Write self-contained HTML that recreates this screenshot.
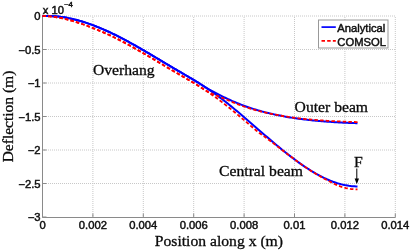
<!DOCTYPE html>
<html><head><meta charset="utf-8"><style>
html,body{margin:0;padding:0;background:#fff;}
body{width:410px;height:250px;overflow:hidden;}
svg{display:block;filter:blur(0.3px);}
.g{stroke:#c8c8c8;stroke-width:1;stroke-dasharray:1 1;fill:none;}
.ax{stroke:#8a8a8a;stroke-width:1;fill:none;}
.t{font-family:"Liberation Sans",sans-serif;font-size:10.4px;fill:#111;stroke:#111;stroke-width:0.45px;}
.s{font-family:"Liberation Serif",serif;font-size:14.5px;fill:#0a0a0a;stroke:#0a0a0a;stroke-width:0.3px;}
.b{stroke:#0000ff;stroke-width:2;fill:none;}
.r{stroke:#ff0000;stroke-width:1.8;fill:none;stroke-dasharray:3.5 2.165;}
</style></head><body>
<svg width="410" height="250" viewBox="0 0 410 250">
<line x1="92.9" y1="17" x2="92.9" y2="217.5" class="g"/>
<line x1="143.3" y1="17" x2="143.3" y2="217.5" class="g"/>
<line x1="193.7" y1="17" x2="193.7" y2="217.5" class="g"/>
<line x1="244.1" y1="17" x2="244.1" y2="217.5" class="g"/>
<line x1="294.5" y1="17" x2="294.5" y2="217.5" class="g"/>
<line x1="344.9" y1="17" x2="344.9" y2="217.5" class="g"/>
<line x1="395.3" y1="17" x2="395.3" y2="217.5" class="g"/>
<line x1="44" y1="16" x2="395.3" y2="16" class="g"/>
<line x1="44" y1="49.5" x2="395.3" y2="49.5" class="g"/>
<line x1="44" y1="83" x2="395.3" y2="83" class="g"/>
<line x1="44" y1="116.5" x2="395.3" y2="116.5" class="g"/>
<line x1="44" y1="150" x2="395.3" y2="150" class="g"/>
<line x1="44" y1="183.5" x2="395.3" y2="183.5" class="g"/>
<line x1="42.5" y1="16" x2="42.5" y2="217.5" class="ax"/>
<line x1="42.5" y1="217.5" x2="395.3" y2="217.5" class="ax"/>
<line x1="42.5" y1="217.5" x2="42.5" y2="213.5" class="ax"/>
<line x1="92.9" y1="217.5" x2="92.9" y2="213.5" class="ax"/>
<line x1="143.3" y1="217.5" x2="143.3" y2="213.5" class="ax"/>
<line x1="193.7" y1="217.5" x2="193.7" y2="213.5" class="ax"/>
<line x1="244.1" y1="217.5" x2="244.1" y2="213.5" class="ax"/>
<line x1="294.5" y1="217.5" x2="294.5" y2="213.5" class="ax"/>
<line x1="344.9" y1="217.5" x2="344.9" y2="213.5" class="ax"/>
<line x1="395.3" y1="217.5" x2="395.3" y2="213.5" class="ax"/>
<line x1="42.5" y1="16" x2="46.5" y2="16" class="ax"/>
<line x1="42.5" y1="49.5" x2="46.5" y2="49.5" class="ax"/>
<line x1="42.5" y1="83" x2="46.5" y2="83" class="ax"/>
<line x1="42.5" y1="116.5" x2="46.5" y2="116.5" class="ax"/>
<line x1="42.5" y1="150" x2="46.5" y2="150" class="ax"/>
<line x1="42.5" y1="183.5" x2="46.5" y2="183.5" class="ax"/>
<line x1="42.5" y1="217" x2="46.5" y2="217" class="ax"/>
<text transform="translate(42.5,228.9) scale(1.08,1)" class="t" text-anchor="middle">0</text>
<text transform="translate(92.9,228.9) scale(1.08,1)" class="t" text-anchor="middle">0.002</text>
<text transform="translate(143.3,228.9) scale(1.08,1)" class="t" text-anchor="middle">0.004</text>
<text transform="translate(193.7,228.9) scale(1.08,1)" class="t" text-anchor="middle">0.006</text>
<text transform="translate(244.1,228.9) scale(1.08,1)" class="t" text-anchor="middle">0.008</text>
<text transform="translate(294.5,228.9) scale(1.08,1)" class="t" text-anchor="middle">0.01</text>
<text transform="translate(344.9,228.9) scale(1.08,1)" class="t" text-anchor="middle">0.012</text>
<text transform="translate(395.3,228.9) scale(1.08,1)" class="t" text-anchor="middle">0.014</text>
<text transform="translate(40.5,20.1) scale(1.08,1)" class="t" text-anchor="end">0</text>
<text transform="translate(40.5,53.6) scale(1.08,1)" class="t" text-anchor="end">−0.5</text>
<text transform="translate(40.5,87.1) scale(1.08,1)" class="t" text-anchor="end">−1</text>
<text transform="translate(40.5,120.6) scale(1.08,1)" class="t" text-anchor="end">−1.5</text>
<text transform="translate(40.5,154.1) scale(1.08,1)" class="t" text-anchor="end">−2</text>
<text transform="translate(40.5,187.6) scale(1.08,1)" class="t" text-anchor="end">−2.5</text>
<text transform="translate(40.5,221.1) scale(1.08,1)" class="t" text-anchor="end">−3</text>
<text transform="translate(42.7,13.7) scale(1.08,1)" class="t" text-anchor="start">x 10</text>
<text transform="translate(63.9,6.9) scale(1.08,1)" class="t" text-anchor="start" style="font-size:7.2px">−4</text>
<path d="M42.5,16.1 L43.94,16.04 L45.38,16 L46.82,15.99 L48.25,15.99 L49.69,16.02 L51.13,16.06 L52.57,16.13 L54.01,16.21 L55.45,16.32 L56.88,16.44 L58.32,16.58 L59.76,16.75 L61.2,16.93 L62.64,17.13 L64.08,17.34 L65.51,17.58 L66.95,17.83 L68.39,18.11 L69.83,18.39 L71.27,18.7 L72.71,19.02 L74.14,19.36 L75.58,19.71 L77.02,20.08 L78.46,20.47 L79.9,20.87 L81.34,21.29 L82.77,21.72 L84.21,22.17 L85.65,22.63 L87.09,23.1 L88.53,23.59 L89.97,24.09 L91.4,24.61 L92.84,25.14 L94.28,25.68 L95.72,26.24 L97.16,26.81 L98.6,27.39 L100.03,27.98 L101.47,28.58 L102.91,29.2 L104.35,29.83 L105.79,30.46 L107.23,31.11 L108.66,31.77 L110.1,32.44 L111.54,33.12 L112.98,33.81 L114.42,34.51 L115.86,35.22 L117.29,35.93 L118.73,36.66 L120.17,37.39 L121.61,38.14 L123.05,38.89 L124.49,39.65 L125.92,40.41 L127.36,41.19 L128.8,41.97 L130.24,42.76 L131.68,43.55 L133.12,44.35 L134.55,45.16 L135.99,45.97 L137.43,46.78 L138.87,47.61 L140.31,48.43 L141.75,49.26 L143.18,50.1 L144.62,50.94 L146.06,51.78 L147.5,52.63 L148.94,53.48 L150.38,54.33 L151.82,55.18 L153.25,56.03 L154.69,56.89 L156.13,57.75 L157.57,58.61 L159.01,59.47 L160.45,60.33 L161.88,61.19 L163.32,62.04 L164.76,62.9 L166.2,63.76 L167.64,64.62 L169.08,65.47 L170.51,66.32 L171.95,67.18 L173.39,68.02 L174.83,68.87 L176.27,69.71 L177.71,70.55 L179.14,71.39 L180.58,72.23 L182.02,73.06 L183.46,73.9 L184.9,74.74 L186.34,75.58 L187.77,76.42 L189.21,77.27 L190.65,78.12 L192.09,78.97 L193.53,79.83 L194.97,80.7 L196.4,81.57 L197.84,82.45 L199.28,83.34 L200.72,84.24 L202.16,85.15 L203.6,86.07 L205.03,87.01 L206.47,87.95 L207.91,88.91 L209.35,89.88 L210.79,90.86 L212.23,91.86 L213.66,92.88 L215.1,93.91 L216.54,94.96 L217.98,96.02 L219.42,97.09 L220.86,98.18 L222.29,99.28 L223.73,100.39 L225.17,101.51 L226.61,102.65 L228.05,103.79 L229.49,104.95 L230.92,106.11 L232.36,107.29 L233.8,108.47 L235.24,109.66 L236.68,110.86 L238.12,112.07 L239.55,113.28 L240.99,114.5 L242.43,115.72 L243.87,116.95 L245.31,118.18 L246.75,119.42 L248.18,120.66 L249.62,121.9 L251.06,123.15 L252.5,124.4 L253.94,125.65 L255.38,126.9 L256.82,128.15 L258.25,129.4 L259.69,130.65 L261.13,131.9 L262.57,133.15 L264.01,134.39 L265.45,135.64 L266.88,136.88 L268.32,138.11 L269.76,139.34 L271.2,140.57 L272.64,141.79 L274.08,143.01 L275.51,144.22 L276.95,145.43 L278.39,146.62 L279.83,147.81 L281.27,148.99 L282.71,150.16 L284.14,151.33 L285.58,152.48 L287.02,153.62 L288.46,154.75 L289.9,155.87 L291.34,156.98 L292.77,158.08 L294.21,159.16 L295.65,160.23 L297.09,161.29 L298.53,162.33 L299.97,163.36 L301.4,164.37 L302.84,165.36 L304.28,166.34 L305.72,167.31 L307.16,168.25 L308.6,169.18 L310.03,170.09 L311.47,170.98 L312.91,171.85 L314.35,172.7 L315.79,173.53 L317.23,174.34 L318.66,175.13 L320.1,175.89 L321.54,176.63 L322.98,177.35 L324.42,178.05 L325.86,178.72 L327.29,179.37 L328.73,179.99 L330.17,180.59 L331.61,181.16 L333.05,181.71 L334.49,182.22 L335.92,182.71 L337.36,183.18 L338.8,183.61 L340.24,184.01 L341.68,184.39 L343.12,184.73 L344.55,185.05 L345.99,185.33 L347.43,185.58 L348.87,185.8 L350.31,185.98 L351.75,186.14 L353.18,186.26 L354.62,186.34 L356.06,186.39 L357.5,186.4" class="b"/>
<path d="M42.5,16.1 L43.94,16.04 L45.38,16 L46.82,15.99 L48.25,15.99 L49.69,16.02 L51.13,16.06 L52.57,16.13 L54.01,16.21 L55.45,16.32 L56.88,16.44 L58.32,16.58 L59.76,16.75 L61.2,16.93 L62.64,17.13 L64.08,17.34 L65.51,17.58 L66.95,17.83 L68.39,18.11 L69.83,18.39 L71.27,18.7 L72.71,19.02 L74.14,19.36 L75.58,19.71 L77.02,20.08 L78.46,20.47 L79.9,20.87 L81.34,21.29 L82.77,21.72 L84.21,22.17 L85.65,22.63 L87.09,23.1 L88.53,23.59 L89.97,24.09 L91.4,24.61 L92.84,25.14 L94.28,25.68 L95.72,26.24 L97.16,26.81 L98.6,27.39 L100.03,27.98 L101.47,28.58 L102.91,29.2 L104.35,29.83 L105.79,30.46 L107.23,31.11 L108.66,31.77 L110.1,32.44 L111.54,33.12 L112.98,33.81 L114.42,34.51 L115.86,35.22 L117.29,35.93 L118.73,36.66 L120.17,37.39 L121.61,38.14 L123.05,38.89 L124.49,39.65 L125.92,40.41 L127.36,41.19 L128.8,41.97 L130.24,42.76 L131.68,43.55 L133.12,44.35 L134.55,45.16 L135.99,45.97 L137.43,46.78 L138.87,47.61 L140.31,48.43 L141.75,49.26 L143.18,50.1 L144.62,50.94 L146.06,51.78 L147.5,52.63 L148.94,53.48 L150.38,54.33 L151.82,55.18 L153.25,56.03 L154.69,56.89 L156.13,57.75 L157.57,58.61 L159.01,59.47 L160.45,60.33 L161.88,61.19 L163.32,62.04 L164.76,62.9 L166.2,63.76 L167.64,64.62 L169.08,65.47 L170.51,66.32 L171.95,67.18 L173.39,68.02 L174.83,68.87 L176.27,69.71 L177.71,70.55 L179.14,71.39 L180.58,72.23 L182.02,73.06 L183.46,73.9 L184.9,74.74 L186.34,75.58 L187.77,76.42 L189.21,77.27 L190.65,78.12 L192.09,78.97 L193.53,79.83 L194.97,80.7 L196.4,81.57 L197.84,82.45 L199.28,83.35 L200.72,84.28 L202.16,85.23 L203.6,86.17 L205.03,87.09 L206.47,87.99 L207.91,88.84 L209.35,89.66 L210.79,90.43 L212.23,91.18 L213.66,91.92 L215.1,92.68 L216.54,93.43 L217.98,94.17 L219.42,94.9 L220.86,95.62 L222.29,96.34 L223.73,97.04 L225.17,97.73 L226.61,98.42 L228.05,99.09 L229.49,99.75 L230.92,100.4 L232.36,101.04 L233.8,101.67 L235.24,102.28 L236.68,102.88 L238.12,103.47 L239.55,104.05 L240.99,104.61 L242.43,105.16 L243.87,105.69 L245.31,106.22 L246.75,106.73 L248.18,107.23 L249.62,107.72 L251.06,108.19 L252.5,108.65 L253.94,109.11 L255.38,109.55 L256.82,109.98 L258.25,110.4 L259.69,110.81 L261.13,111.21 L262.57,111.6 L264.01,111.98 L265.45,112.35 L266.88,112.71 L268.32,113.06 L269.76,113.4 L271.2,113.74 L272.64,114.06 L274.08,114.38 L275.51,114.69 L276.95,114.99 L278.39,115.28 L279.83,115.57 L281.27,115.85 L282.71,116.12 L284.14,116.39 L285.58,116.65 L287.02,116.9 L288.46,117.15 L289.9,117.39 L291.34,117.62 L292.77,117.85 L294.21,118.07 L295.65,118.28 L297.09,118.49 L298.53,118.69 L299.97,118.89 L301.4,119.08 L302.84,119.26 L304.28,119.44 L305.72,119.62 L307.16,119.79 L308.6,119.95 L310.03,120.11 L311.47,120.27 L312.91,120.42 L314.35,120.56 L315.79,120.7 L317.23,120.84 L318.66,120.97 L320.1,121.1 L321.54,121.22 L322.98,121.34 L324.42,121.45 L325.86,121.56 L327.29,121.67 L328.73,121.77 L330.17,121.87 L331.61,121.97 L333.05,122.06 L334.49,122.15 L335.92,122.24 L337.36,122.32 L338.8,122.4 L340.24,122.48 L341.68,122.55 L343.12,122.63 L344.55,122.69 L345.99,122.76 L347.43,122.83 L348.87,122.89 L350.31,122.95 L351.75,123.01 L353.18,123.06 L354.62,123.12 L356.06,123.17 L357.5,123.22" class="b"/>
<path d="M42.5,16.1 L43.94,16.13 L45.38,16.18 L46.82,16.26 L48.25,16.36 L49.69,16.47 L51.13,16.61 L52.57,16.77 L54.01,16.95 L55.45,17.15 L56.88,17.37 L58.32,17.61 L59.76,17.87 L61.2,18.15 L62.64,18.45 L64.08,18.76 L65.51,19.1 L66.95,19.44 L68.39,19.81 L69.83,20.18 L71.27,20.57 L72.71,20.98 L74.14,21.41 L75.58,21.85 L77.02,22.3 L78.46,22.77 L79.9,23.24 L81.34,23.73 L82.77,24.23 L84.21,24.74 L85.65,25.25 L87.09,25.78 L88.53,26.32 L89.97,26.88 L91.4,27.44 L92.84,28.02 L94.28,28.6 L95.72,29.19 L97.16,29.78 L98.6,30.38 L100.03,30.98 L101.47,31.58 L102.91,32.2 L104.35,32.83 L105.79,33.46 L107.23,34.11 L108.66,34.77 L110.1,35.44 L111.54,36.12 L112.98,36.81 L114.42,37.51 L115.86,38.22 L117.29,38.93 L118.73,39.66 L120.17,40.39 L121.61,41.14 L123.05,41.89 L124.49,42.65 L125.92,43.41 L127.36,44.19 L128.8,44.97 L130.24,45.76 L131.68,46.55 L133.12,47.35 L134.55,48.16 L135.99,48.97 L137.43,49.78 L138.87,50.61 L140.31,51.43 L141.75,52.26 L143.18,53.1 L144.62,53.94 L146.06,54.78 L147.5,55.63 L148.94,56.48 L150.38,57.33 L151.82,58.18 L153.25,59.03 L154.69,59.89 L156.13,60.75 L157.57,61.61 L159.01,62.47 L160.45,63.33 L161.88,64.19 L163.32,65.04 L164.76,65.9 L166.2,66.76 L167.64,67.62 L169.08,68.47 L170.51,69.32 L171.95,70.18 L173.39,71.02 L174.83,71.87 L176.27,72.71 L177.71,73.55 L179.14,74.39 L180.58,75.23 L182.02,76.06 L183.46,76.9 L184.9,77.74 L186.34,78.58 L187.77,79.42 L189.21,80.27 L190.65,81.12 L192.09,81.97 L193.53,82.83 L194.97,83.7 L196.4,84.57 L197.84,85.45 L199.28,86.34 L200.72,87.24 L202.16,88.15 L203.6,89.07 L205.03,90.01 L206.47,90.97 L207.91,91.95 L209.35,92.94 L210.79,93.95 L212.23,94.96 L213.66,95.98 L215.1,97.01 L216.54,98.05 L217.98,99.11 L219.42,100.18 L220.86,101.27 L222.29,102.36 L223.73,103.47 L225.17,104.59 L226.61,105.72 L228.05,106.85 L229.49,108 L230.92,109.16 L232.36,110.33 L233.8,111.51 L235.24,112.69 L236.68,113.88 L238.12,115.08 L239.55,116.28 L240.99,117.49 L242.43,118.71 L243.87,119.93 L245.31,121.15 L246.75,122.37 L248.18,123.6 L249.62,124.83 L251.06,126.06 L252.5,127.29 L253.94,128.51 L255.38,129.73 L256.82,130.95 L258.25,132.12 L259.69,133.2 L261.13,134.21 L262.57,135.21 L264.01,136.22 L265.45,137.29 L266.88,138.37 L268.32,139.45 L269.76,140.54 L271.2,141.62 L272.64,142.7 L274.08,143.79 L275.51,144.89 L276.95,145.99 L278.39,147.1 L279.83,148.22 L281.27,149.34 L282.71,150.45 L284.14,151.56 L285.58,152.66 L287.02,153.76 L288.46,154.85 L289.9,155.93 L291.34,157.01 L292.77,158.09 L294.21,159.16 L295.65,160.23 L297.09,161.29 L298.53,162.34 L299.97,163.37 L301.4,164.39 L302.84,165.4 L304.28,166.39 L305.72,167.37 L307.16,168.33 L308.6,169.28 L310.03,170.21 L311.47,171.12 L312.91,172.01 L314.35,172.89 L315.79,173.75 L317.23,174.6 L318.66,175.45 L320.1,176.28 L321.54,177.11 L322.98,177.92 L324.42,178.71 L325.86,179.49 L327.29,180.27 L328.73,181.05 L330.17,181.82 L331.61,182.57 L333.05,183.29 L334.49,183.97 L335.92,184.61 L337.36,185.22 L338.8,185.81 L340.24,186.36 L341.68,186.87 L343.12,187.33 L344.55,187.73 L345.99,188.07 L347.43,188.37 L348.87,188.64 L350.31,188.87 L351.75,189.06 L353.18,189.21 L354.62,189.32 L356.06,189.38 L357.5,189.4" class="r"/>
<path d="M42.5,16.1 L43.94,16.13 L45.38,16.18 L46.82,16.26 L48.25,16.36 L49.69,16.47 L51.13,16.61 L52.57,16.77 L54.01,16.95 L55.45,17.15 L56.88,17.37 L58.32,17.61 L59.76,17.87 L61.2,18.15 L62.64,18.45 L64.08,18.76 L65.51,19.1 L66.95,19.44 L68.39,19.81 L69.83,20.18 L71.27,20.57 L72.71,20.98 L74.14,21.41 L75.58,21.85 L77.02,22.3 L78.46,22.77 L79.9,23.24 L81.34,23.73 L82.77,24.23 L84.21,24.74 L85.65,25.25 L87.09,25.78 L88.53,26.32 L89.97,26.88 L91.4,27.44 L92.84,28.02 L94.28,28.6 L95.72,29.19 L97.16,29.78 L98.6,30.38 L100.03,30.98 L101.47,31.58 L102.91,32.2 L104.35,32.83 L105.79,33.46 L107.23,34.11 L108.66,34.77 L110.1,35.44 L111.54,36.12 L112.98,36.81 L114.42,37.51 L115.86,38.22 L117.29,38.93 L118.73,39.66 L120.17,40.39 L121.61,41.14 L123.05,41.89 L124.49,42.65 L125.92,43.41 L127.36,44.19 L128.8,44.97 L130.24,45.76 L131.68,46.55 L133.12,47.35 L134.55,48.16 L135.99,48.97 L137.43,49.78 L138.87,50.61 L140.31,51.43 L141.75,52.26 L143.18,53.1 L144.62,53.94 L146.06,54.78 L147.5,55.63 L148.94,56.48 L150.38,57.33 L151.82,58.18 L153.25,59.03 L154.69,59.89 L156.13,60.75 L157.57,61.61 L159.01,62.47 L160.45,63.33 L161.88,64.19 L163.32,65.04 L164.76,65.9 L166.2,66.76 L167.64,67.62 L169.08,68.47 L170.51,69.32 L171.95,70.18 L173.39,71.02 L174.83,71.87 L176.27,72.71 L177.71,73.55 L179.14,74.39 L180.58,75.23 L182.02,76.06 L183.46,76.9 L184.9,77.74 L186.34,78.58 L187.77,79.42 L189.21,80.27 L190.65,81.12 L192.09,81.97 L193.53,82.83 L194.97,83.7 L196.4,84.57 L197.84,85.45 L199.28,86.35 L200.72,87.28 L202.16,88.23 L203.6,89.17 L205.03,90.09 L206.47,90.9 L207.91,91.68 L209.35,92.41 L210.79,93.1 L212.23,93.75 L213.66,94.34 L215.1,94.94 L216.54,95.54 L217.98,96.15 L219.42,96.75 L220.86,97.35 L222.29,97.94 L223.73,98.53 L225.17,99.11 L226.61,99.69 L228.05,100.27 L229.49,100.87 L230.92,101.47 L232.36,102.08 L233.8,102.68 L235.24,103.27 L236.68,103.84 L238.12,104.41 L239.55,104.96 L240.99,105.49 L242.43,106 L243.87,106.5 L245.31,106.99 L246.75,107.46 L248.18,107.92 L249.62,108.36 L251.06,108.8 L252.5,109.22 L253.94,109.64 L255.38,110.04 L256.82,110.43 L258.25,110.81 L259.69,111.18 L261.13,111.54 L262.57,111.88 L264.01,112.22 L265.45,112.56 L266.88,112.88 L268.32,113.2 L269.76,113.51 L271.2,113.81 L272.64,114.11 L274.08,114.4 L275.51,114.68 L276.95,114.96 L278.39,115.23 L279.83,115.49 L281.27,115.75 L282.71,116 L284.14,116.24 L285.58,116.48 L287.02,116.71 L288.46,116.93 L289.9,117.15 L291.34,117.36 L292.77,117.57 L294.21,117.76 L295.65,117.96 L297.09,118.14 L298.53,118.32 L299.97,118.49 L301.4,118.65 L302.84,118.81 L304.28,118.96 L305.72,119.1 L307.16,119.24 L308.6,119.37 L310.03,119.5 L311.47,119.62 L312.91,119.74 L314.35,119.85 L315.79,119.97 L317.23,120.08 L318.66,120.19 L320.1,120.3 L321.54,120.4 L322.98,120.5 L324.42,120.6 L325.86,120.69 L327.29,120.78 L328.73,120.87 L330.17,120.96 L331.61,121.04 L333.05,121.11 L334.49,121.19 L335.92,121.26 L337.36,121.33 L338.8,121.4 L340.24,121.46 L341.68,121.52 L343.12,121.58 L344.55,121.64 L345.99,121.7 L347.43,121.76 L348.87,121.81 L350.31,121.86 L351.75,121.92 L353.18,121.97 L354.62,122.02 L356.06,122.07 L357.5,122.12" class="r"/>
<text transform="translate(93,74.6) scale(1.08,1)" class="s" text-anchor="start">Overhang</text>
<text transform="translate(294.6,111.6) scale(1.08,1)" class="s" text-anchor="start">Outer beam</text>
<text transform="translate(219.1,175.6) scale(1.08,1)" class="s" text-anchor="start">Central beam</text>
<text transform="translate(354,167.4) scale(1.08,1)" class="s" text-anchor="start">F</text>
<line x1="356.8" y1="168.5" x2="356.8" y2="181" stroke="#000" stroke-width="1"/>
<path d="M354.6,178.6 L356.8,184.2 L359,178.6 Z" fill="#000"/>
<text transform="translate(218.9,246.4) scale(1.08,1)" class="s" text-anchor="middle">Position along x (m)</text>
<text transform="translate(12.9,116.5) rotate(-90)" class="s" text-anchor="middle" style="font-size:15.5px">Deflection (m)</text>
<rect x="318.5" y="20" width="69.5" height="28" fill="#fff" stroke="#999" stroke-width="1"/>
<line x1="321.5" y1="27.1" x2="335.8" y2="27.1" class="b" style="stroke-width:1.7"/>
<line x1="321.5" y1="40.8" x2="335.8" y2="40.8" class="r" style="stroke-width:1.8"/>
<text transform="translate(337.3,31.9) scale(1.08,1)" class="t" text-anchor="start">Analytical</text>
<text transform="translate(337.3,45.5) scale(1.08,1)" class="t" text-anchor="start">COMSOL</text>
</svg>
</body></html>
